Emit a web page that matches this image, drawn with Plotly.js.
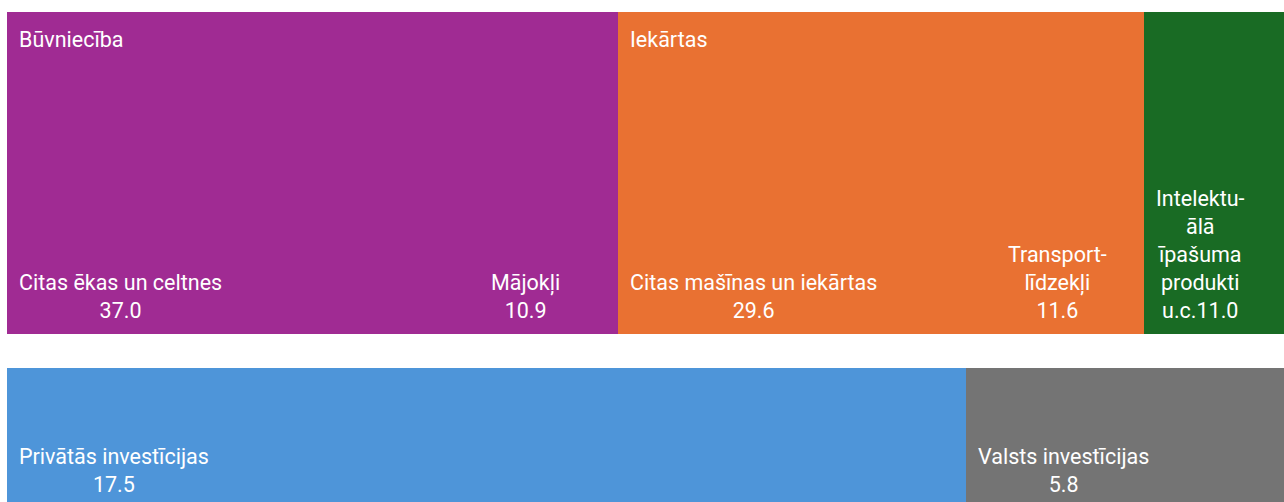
<!DOCTYPE html>
<html><head><meta charset="utf-8">
<script src="https://cdn.plot.ly/plotly-3.0.1.min.js"></script>
<style>html,body{margin:0;padding:0;background:#fff;overflow:hidden}</style>
</head><body><div id="chart" style="width:1284px;height:502px"></div>
<script>
// Top bar: structure of investments by asset type
const topLabels = ["Citas ēkas un celtnes", "Mājokļi", "Citas mašīnas un iekārtas", "Transport-<br>līdzekļi", "Intelektu-<br>ālā<br>īpašuma<br>produkti<br>u.c."];
const topValues = [37.0, 10.9, 29.6, 11.6, 11.0];
const topSeparators = ["<br>", "<br>", "<br>", "<br>", ""];
const topGroups = ["Būvniecība", "Būvniecība", "Iekārtas", "Iekārtas", ""];
const topColors = ["#A02B93", "#A02B93", "#E97132", "#E97132", "#196B24"];
// Bottom bar: private vs public
const bottomLabels = ["Privātās investīcijas", "Valsts investīcijas"];
const bottomValues = [17.5, 5.8];
const bottomColors = ["#4E95D9", "#747474"];

const FONT = "Roboto";
const FS = 21.5;
const traces = [];
const annotations = [];

function addBar(labels, values, colors, seps, groups, xa, ya, yshift) {
  const total = values.reduce((a, b) => a + b, 0);
  let cum = 0;
  let prevGroup = null;
  values.forEach((v, i) => {
    traces.push({
      type: "bar", orientation: "h", x: [v], y: [0], width: [1],
      xaxis: xa, yaxis: ya,
      marker: {color: colors[i], line: {width: 0}},
      hoverinfo: "skip", showlegend: false
    });
    const start = cum / total * 100;
    annotations.push({
      xref: xa, yref: ya + " domain", x: start, y: 0,
      xanchor: "left", yanchor: "bottom", align: "center",
      xshift: 10, yshift: yshift, showarrow: false,
      text: labels[i] + seps[i] + v.toFixed(1),
      font: {family: FONT, size: FS, color: "#FFFFFF"}
    });
    if (groups && groups[i] && groups[i] !== prevGroup) {
      annotations.push({
        xref: xa, yref: ya + " domain", x: start, y: 1,
        xanchor: "left", yanchor: "top", align: "left",
        xshift: 10, yshift: -13, showarrow: false,
        text: groups[i],
        font: {family: FONT, size: FS, color: "#FFFFFF"}
      });
    }
    prevGroup = groups ? groups[i] : null;
    cum += v;
  });
}

addBar(topLabels, topValues, topColors, topSeparators, topGroups, "x", "y", 9);
addBar(bottomLabels, bottomValues, bottomColors, ["<br>", "<br>"], null, "x2", "y2", 3);

const layout = {
  width: 1284, height: 502,
  margin: {l: 7, r: 0, t: 12, b: 0},
  paper_bgcolor: "#FFFFFF", plot_bgcolor: "#FFFFFF",
  barmode: "stack", barnorm: "percent", bargap: 0,
  showlegend: false, hovermode: false,
  xaxis: {domain: [0, 1], range: [0, 100], visible: false, fixedrange: true, anchor: "y"},
  xaxis2: {domain: [0, 1], range: [0, 100], visible: false, fixedrange: true, anchor: "y2"},
  yaxis: {domain: [0.3429, 1], range: [-0.5, 0.5], visible: false, fixedrange: true, anchor: "x"},
  yaxis2: {domain: [0, 0.2735], range: [-0.5, 0.5], visible: false, fixedrange: true, anchor: "x2"},
  annotations: annotations
};
Plotly.newPlot("chart", traces, layout, {displayModeBar: false, staticPlot: true});
</script></body></html>
